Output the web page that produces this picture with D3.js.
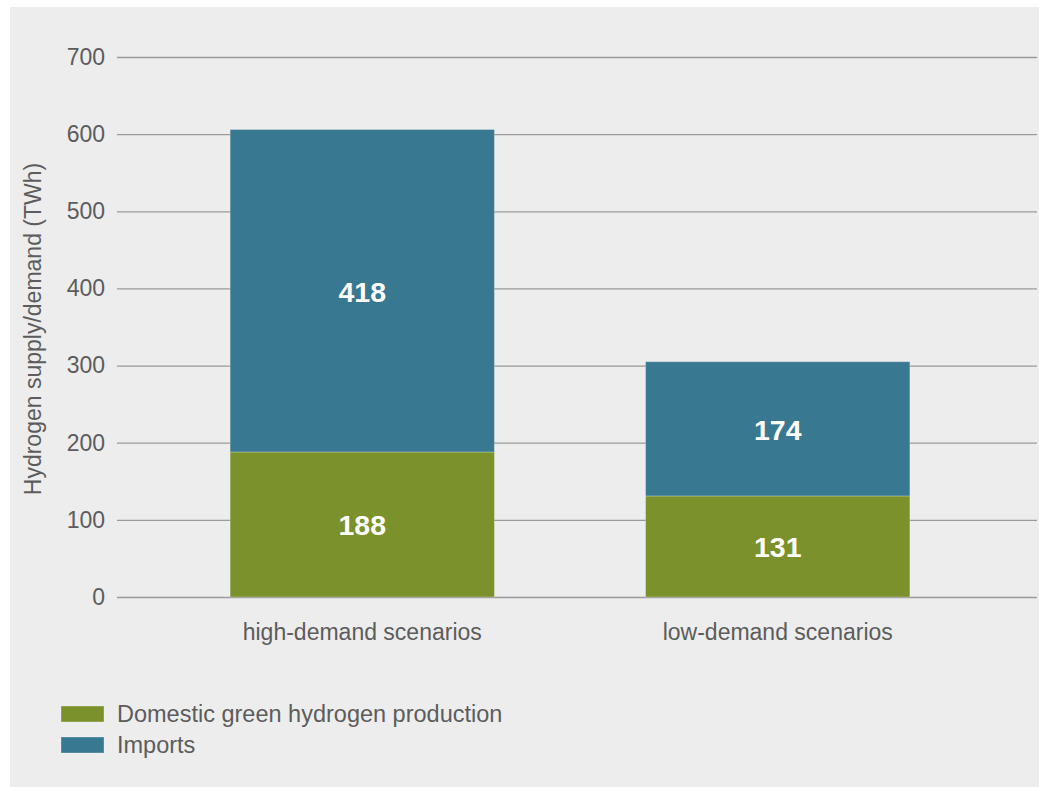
<!DOCTYPE html>
<html><head><meta charset="utf-8">
<script src="https://cdn.jsdelivr.net/npm/d3@7"></script>
<style>body{margin:0;background:#fff}svg{display:block}text{font-family:"Liberation Sans",Arial,sans-serif}</style>
</head><body>
<svg id="c" width="1039" height="787"></svg>
<script>
const categories = ["high-demand scenarios", "low-demand scenarios"];
const seriesNames = ["Domestic green hydrogen production", "Imports"];
const domestic = [188, 131];
const imports = [418, 174];
const yTicks = [0, 100, 200, 300, 400, 500, 600, 700];
const colors = ["#7b912c", "#387891"];

const svg = d3.select("#c");
svg.append("rect").attr("x", 10).attr("y", 7).attr("width", 1029).attr("height", 780).attr("fill", "#ededed");

const y = d3.scaleLinear().domain([0, 700]).range([597, 57]);
const x = d3.scaleBand().domain(categories).range([117, 1023]).paddingInner(0.3639).paddingOuter(0.2723);

// grid
const gAxis = svg.append("g").attr("transform", "translate(117,0)")
  .call(d3.axisLeft(y).tickValues(yTicks).tickSize(-920).tickPadding(12).tickFormat(d3.format("d")));
gAxis.select(".domain").remove();
gAxis.selectAll(".tick line").attr("stroke", "#9a9a9a").attr("stroke-width", 1.3);
gAxis.selectAll(".tick text").attr("fill", "#5c5c5c").style("font-size", "23px").attr("x", -12);

const data = categories.map((c, i) => ({cat: c, domestic: domestic[i], imports: imports[i]}));
const stack = d3.stack().keys(["domestic", "imports"])(data);

const g = svg.append("g");
stack.forEach((layer, li) => {
  g.selectAll(null).data(layer).enter().append("rect")
    .attr("x", d => x(d.data.cat))
    .attr("width", x.bandwidth())
    .attr("y", d => y(d[1]))
    .attr("height", d => y(d[0]) - y(d[1]))
    .attr("fill", colors[li])
    .attr("stroke", "rgba(255,255,255,0.25)").attr("stroke-width", 1);
  g.selectAll(null).data(layer).enter().append("text")
    .attr("x", d => x(d.data.cat) + x.bandwidth() / 2)
    .attr("y", d => y((d[0] + d[1]) / 2))
    .attr("dy", "0.38em")
    .attr("text-anchor", "middle")
    .attr("fill", "#fff").style("font-size", "28.5px").style("font-weight", "bold")
    .text(d => d[1] - d[0]);
});

// x labels
const xAxis = svg.append("g").attr("transform", "translate(0,597)")
  .call(d3.axisBottom(x).tickSize(0).tickPadding(0));
xAxis.select(".domain").remove();
xAxis.selectAll(".tick text").attr("y", 43).attr("dy", 0).attr("fill", "#5c5c5c").style("font-size", "23px");

// y title
svg.append("text").attr("transform", "translate(41,329) rotate(-90)")
  .attr("text-anchor", "middle").attr("fill", "#5c5c5c").style("font-size", "23px")
  .text("Hydrogen supply/demand (TWh)");

// legend
const leg = svg.append("g");
seriesNames.forEach((n, i) => {
  leg.append("rect").attr("x", 61).attr("y", 706 + i * 31).attr("width", 43).attr("height", 16)
    .attr("fill", colors[i]).attr("stroke", "rgba(255,255,255,0.3)").attr("stroke-width", 1);
  leg.append("text").attr("x", 117).attr("y", 722 + i * 31).attr("fill", "#5c5c5c")
    .style("font-size", "23.5px").text(n);
});
</script>
</body></html>
